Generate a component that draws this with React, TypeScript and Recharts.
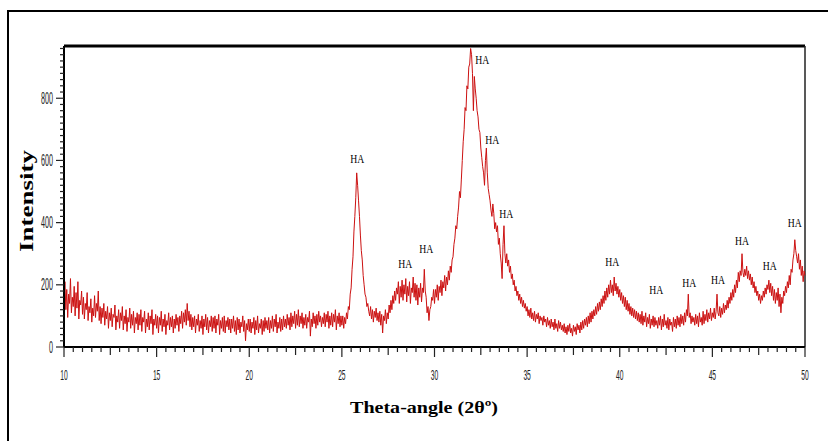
import React from 'react';
import { LineChart, Line, XAxis, YAxis, ReferenceLine, ReferenceDot } from 'recharts';

// XRD scan, 0.05 deg step
const thetaStart = 10;
const thetaStep = 0.05;

const counts10to20 = [
  150, 210, 120, 185, 95, 170, 140, 220, 110, 160, 130, 195, 100, 175, 125, 210, 90, 150, 135, 180,
  105, 160, 90, 140, 120, 175, 85, 130, 110, 155, 80, 125, 100, 165, 95, 140, 115, 180, 85, 130,
  75, 125, 95, 140, 70, 115, 90, 130, 60, 110, 85, 125, 65, 105, 95, 135, 55, 100, 80, 120,
  60, 110, 85, 130, 55, 100, 75, 120, 50, 95, 80, 125, 60, 105, 70, 115, 45, 95, 75, 110,
  55, 105, 70, 120, 50, 95, 80, 115, 45, 90, 65, 110, 55, 100, 75, 120, 40, 90, 70, 105,
  60, 100, 45, 95, 70, 115, 50, 90, 65, 105, 40, 85, 70, 110, 55, 95, 65, 100, 45, 90,
  60, 105, 70, 95, 50, 100, 75, 115, 60, 110, 80, 120, 70, 140, 85, 115, 65, 105, 55, 95,
  65, 100, 45, 90, 70, 105, 50, 85, 60, 100, 40, 90, 65, 105, 55, 95, 45, 85, 65, 100,
  50, 95, 60, 100, 45, 90, 70, 105, 40, 85, 60, 95, 50, 100, 45, 85, 65, 95, 55, 90,
  45, 90, 60, 100, 50, 85, 40, 95, 55, 90, 45, 80, 65, 100, 50, 85, 20, 75, 55, 90,
];

const counts20to30 = [
  50, 90, 45, 80, 60, 95, 40, 85, 55, 100, 45, 75, 60, 90, 40, 85, 50, 95, 60, 85,
  55, 95, 45, 85, 60, 100, 50, 90, 65, 105, 45, 80, 60, 95, 50, 90, 55, 100, 65, 90,
  60, 105, 70, 95, 55, 110, 65, 100, 75, 115, 60, 105, 70, 120, 65, 100, 75, 110, 60, 95,
  70, 105, 60, 95, 80, 115, 35, 90, 65, 110, 75, 100, 60, 105, 70, 115, 80, 100, 65, 95,
  75, 110, 65, 105, 80, 115, 60, 100, 70, 110, 65, 105, 80, 120, 55, 100, 75, 110, 65, 100,
  70, 100, 60, 95, 75, 110, 90, 130, 120, 170, 190, 250, 290, 370, 420, 480, 560, 520, 470, 420,
  360, 310, 280, 230, 200, 170, 160, 130, 140, 115, 100, 130, 90, 120, 80, 115, 95, 125, 85, 110,
  80, 115, 70, 105, 45, 100, 85, 120, 75, 110, 90, 135, 110, 150, 120, 165, 140, 180, 150, 190,
  170, 210, 140, 195, 160, 215, 150, 200, 170, 220, 145, 195, 165, 210, 140, 190, 175, 225, 160, 205,
  150, 200, 135, 190, 160, 205, 145, 190, 175, 250, 180, 160, 110, 130, 85, 120, 130, 160, 150, 185,
];

const counts30to40 = [
  140, 185, 160, 200, 150, 195, 175, 215, 165, 210, 190, 230, 180, 225, 200, 245, 215, 260, 240, 280,
  290, 330, 350, 390, 380, 420, 450, 500, 480, 540, 600, 660, 700, 770, 760, 840, 830, 900, 910, 960,
  940, 880, 760, 870, 830, 800, 760, 740, 700, 690, 640, 610, 580, 560, 520, 600, 640, 560, 510, 490,
  470, 440, 420, 460, 430, 380, 400, 370, 390, 330, 350, 300, 270, 220, 330, 390, 300, 270, 300, 260,
  280, 240, 260, 220, 235, 200, 215, 180, 195, 165, 180, 150, 170, 140, 160, 130, 150, 125, 140, 115,
  130, 100, 120, 95, 125, 90, 110, 85, 115, 80, 105, 90, 110, 75, 100, 85, 95, 70, 100, 80,
  90, 65, 95, 70, 85, 60, 90, 65, 80, 55, 90, 60, 75, 50, 85, 60, 80, 55, 70, 50,
  75, 45, 65, 40, 70, 50, 75, 45, 60, 35, 70, 50, 65, 40, 75, 55, 70, 45, 80, 55,
  85, 60, 90, 70, 95, 65, 100, 75, 110, 80, 115, 90, 120, 100, 130, 105, 140, 115, 145, 120,
  155, 130, 165, 140, 180, 150, 190, 160, 200, 170, 215, 175, 200, 165, 225, 180, 205, 170, 195, 160,
];

const counts40to50 = [
  185, 150, 175, 140, 165, 130, 160, 120, 150, 115, 140, 105, 130, 100, 125, 95, 120, 90, 115, 85,
  110, 80, 105, 75, 115, 70, 100, 80, 110, 65, 95, 75, 105, 60, 90, 70, 100, 65, 95, 70,
  85, 60, 95, 70, 100, 55, 90, 65, 105, 70, 85, 60, 95, 55, 90, 70, 80, 50, 95, 65,
  90, 60, 100, 70, 95, 65, 105, 75, 100, 70, 110, 80, 120, 100, 170, 95, 110, 75, 100, 80,
  95, 70, 105, 75, 100, 65, 110, 80, 95, 70, 115, 75, 105, 85, 120, 80, 110, 90, 125, 85,
  110, 95, 125, 90, 115, 170, 110, 100, 130, 95, 125, 105, 140, 110, 135, 120, 150, 125, 160, 140,
  175, 150, 185, 160, 200, 175, 215, 190, 240, 210, 245, 230, 300, 240, 225, 250, 230, 260, 220, 245,
  215, 235, 200, 225, 190, 210, 175, 195, 165, 180, 150, 170, 140, 165, 150, 180, 160, 190, 170, 200,
  185, 215, 175, 205, 165, 195, 150, 185, 140, 175, 150, 190, 130, 170, 110, 160, 140, 180, 165, 195,
  175, 210, 190, 230, 200, 250, 240, 280, 300, 345, 310, 290, 270, 300, 250, 280, 230, 260, 210, 245,
  230,
];

const xTickLabels = [10, 15, 20, 25, 30, 35, 40, 45, 50];
const yTickLabels = [0, 200, 400, 600, 800];

// HA peak annotations (label centre: 2theta, intensity)
const peakTheta = [25.83, 28.42, 29.56, 32.58, 33.12, 33.87, 39.6, 41.97, 43.75, 45.31, 46.6, 48.1, 49.45];
const peakLabelY = [606, 270, 318, 925, 666, 430, 274, 185, 209, 218, 341, 263, 399];

const yMax = 968;

const counts = [...counts10to20, ...counts20to30, ...counts30to40, ...counts40to50];
const data = counts.map((v, i) => ({
  t: Math.round((thetaStart + i * thetaStep) * 100) / 100,
  v,
}));

const xTicks = Array.from({ length: 81 }, (_, i) => 10 + i * 0.5);
const yTicks = Array.from({ length: 49 }, (_, i) => i * 20);

const XTick = (props: any) => {
  const { x, y, payload } = props;
  const v = payload.value;
  const major = xTickLabels.includes(v);
  const mid = Math.abs((v / 2.5) - Math.round(v / 2.5)) < 1e-6;
  const len = major ? 10 : mid ? 8 : 5;
  return (
    <g>
      <line x1={x} y1={y} x2={x} y2={y + len} stroke="#222" strokeWidth={1.2} />
      {major && (
        <text x={x} y={y + 33} textAnchor="middle" fontSize={15} fill="#222"
          fontFamily="'Liberation Sans', Arial, sans-serif"
          textLength={7.5} lengthAdjust="spacingAndGlyphs">{v}</text>
      )}
    </g>
  );
};

const YTick = (props: any) => {
  const { x, y, payload } = props;
  const v = payload.value;
  const major = yTickLabels.includes(v);
  const len = major ? 8 : 4;
  const s = String(v);
  return (
    <g>
      <line x1={x} y1={y} x2={x - len} y2={y} stroke="#222" strokeWidth={1.2} />
      {major && (
        <text x={53} y={y + 5.5} textAnchor="end" fontSize={16} fill="#222"
          fontFamily="'Liberation Sans', Arial, sans-serif"
          textLength={s.length * 4} lengthAdjust="spacingAndGlyphs">{s}</text>
      )}
    </g>
  );
};

const XTitle = () => (
  <text x={424} y={413} textAnchor="middle" fontSize={17} fontWeight="bold"
    fontFamily="'Liberation Serif', 'Times New Roman', serif" fill="#000"
    textLength={148} lengthAdjust="spacingAndGlyphs">Theta-angle (2θº)</text>
);

const YTitle = () => (
  <text x={0} y={0} transform="translate(33,201) rotate(-90)" textAnchor="middle"
    fontSize={18} fontWeight="bold" fill="#000"
    fontFamily="'Liberation Serif', 'Times New Roman', serif"
    textLength={102} lengthAdjust="spacingAndGlyphs">Intensity</text>
);

const PeakLabel = (props: any) => (
  <text x={props.cx} y={props.cy + 4.5} textAnchor="middle" fontSize={13} fill="#000"
    fontFamily="'Liberation Serif', 'Times New Roman', serif"
    textLength={14} lengthAdjust="spacingAndGlyphs">HA</text>
);

export default function App() {
  return (
    <div style={{ position: 'fixed', left: 0, top: 0, width: 828, height: 441, overflow: 'hidden', background: '#fff' }}>
      <div style={{ position: 'absolute', left: 7, top: 10, width: 900, height: 500, border: '2px solid #000' }} />
      <div style={{ position: 'absolute', left: 0, top: 0 }}>
        <LineChart width={828} height={441} data={data} margin={{ top: 46, right: 23, bottom: 64, left: 34 }}>
          <XAxis type="number" dataKey="t" domain={[10, 50]} ticks={xTicks} interval={0}
            height={30} tickSize={0} tickMargin={0} tick={<XTick />}
            axisLine={{ stroke: '#000', strokeWidth: 2 }} label={<XTitle />} />
          <YAxis type="number" domain={[0, yMax]} ticks={yTicks} interval={0}
            width={30} tickSize={0} tickMargin={0} tick={<YTick />}
            axisLine={{ stroke: '#000', strokeWidth: 2 }} label={<YTitle />} />
          <ReferenceLine y={yMax} stroke="#000" strokeWidth={3} />
          <ReferenceLine x={50} stroke="#222" strokeWidth={1.5} />
          <Line type="linear" dataKey="v" stroke="#cc1111" strokeWidth={1} dot={false} isAnimationActive={false} />
          {peakTheta.map((t, i) => (
            <ReferenceDot key={i} x={t} y={peakLabelY[i]} r={0} shape={<PeakLabel />} />
          ))}
        </LineChart>
      </div>
    </div>
  );
}
